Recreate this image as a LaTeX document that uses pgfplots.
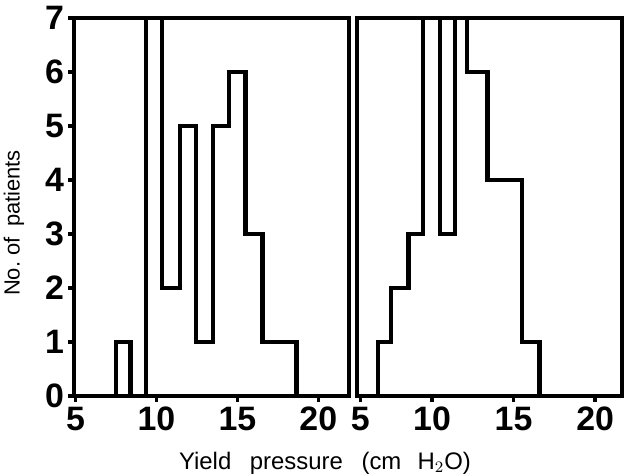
\documentclass[border=0pt]{standalone}
\usepackage{fontspec}
\setmainfont{Liberation Sans}
\usepackage{pgfplots}
\pgfplotsset{compat=1.18}

% 1 px of the reference = 0.5bp
\pgfplotsset{
  panel/.style={
    scale only axis,
    height=189bp,
    ymin=0, ymax=7,
    axis line style={line width=2bp},
    tick align=outside,
    tick pos=left,
    major tick length=3bp,
    tick style={line width=1.6bp, black},
    ticklabel style={font=\bfseries\fontsize{17}{17}\selectfont},
    xtick={5,10,15,20},
  },
  hist/.style={const plot mark left, line width=2.2bp, black, mark=none},
}

\begin{document}
\begin{tikzpicture}
\path[use as bounding box] (-37bp,-40bp) rectangle (275bp,198bp);

% left panel
\begin{axis}[panel,
  at={(0,0)}, anchor=south west,
  width=137.5bp,
  xmin=4.9, xmax=21.9,
  xticklabels={5,10,15,20},
  ytick={0,1,2,3,4,5,6,7},
  yticklabels={0,1,2,3,4,5,6,7},
  yticklabel style={xshift=1.5bp},
  xticklabel style={yshift=1bp},
]
\addplot[hist] coordinates {
  (7.5,0) (7.5,1) (8.4,0) (9.35,7) (10.35,2) (11.45,5) (12.45,1)
  (13.5,5) (14.5,6) (15.5,3) (16.55,1) (18.65,0)
};
\end{axis}

% right panel
\begin{axis}[panel,
  at={(141.5bp,0)}, anchor=south west,
  width=132.5bp,
  xmin=5.4, xmax=21.65,
  xtick={5.6,10,15,20},
  xticklabels={5,10,15,20},
  xticklabel style={yshift=1bp},
  ytick=\empty,
]
\addplot[hist] coordinates {
  (6.7,0) (6.7,1) (7.5,2) (8.55,3) (9.45,7) (10.5,3) (11.4,7)
  (12.15,6) (13.4,4) (15.5,1) (16.6,0)
};
\end{axis}

\node[font=\fontsize{12}{12}\selectfont] at (125.5bp,-33.5bp)
  {Yield\hspace{0.5em} pressure\hspace{0.5em} (cm\hspace{0.4em} H$_2$O)};
\node[rotate=90, font=\fontsize{11}{11}\selectfont] at (-30bp,86.5bp)
  {No.\ of\hspace{0.2em} patients};
\end{tikzpicture}
\end{document}
